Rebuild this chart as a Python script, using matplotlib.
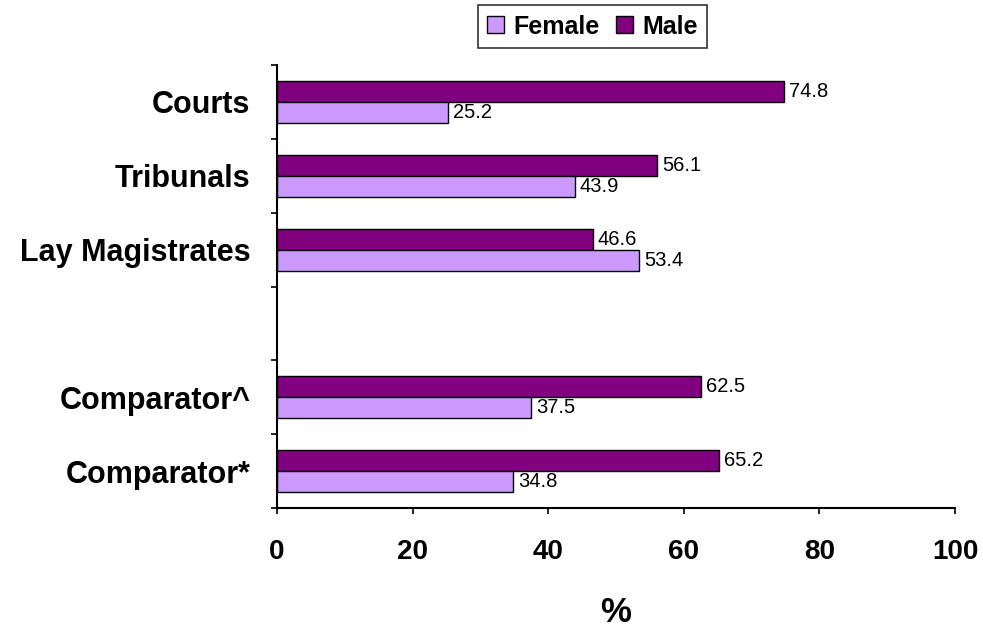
import matplotlib
matplotlib.use("Agg")
import matplotlib.pyplot as plt
from matplotlib.patches import Patch

plt.rcParams['font.family'] = ['Liberation Sans', 'DejaVu Sans']

categories = ["Courts", "Tribunals", "Lay Magistrates", "", "Comparator^", "Comparator*"]
female = [25.2, 43.9, 53.4, None, 37.5, 34.8]
male = [74.8, 56.1, 46.6, None, 62.5, 65.2]
xticks = [0, 20, 40, 60, 80, 100]

c_female = "#CC99FF"
c_male = "#800080"

fig = plt.figure(figsize=(9.83, 6.27), dpi=100)
ax = fig.add_axes([277/983, 1-508/627, (955-277)/983, (508-65)/627])

n = len(categories)
h = 0.285
for i, (cat, f, m) in enumerate(zip(categories, female, male)):
    y = n - 1 - i
    if f is None:
        continue
    ax.barh(y + h/2, m, height=h, color=c_male, edgecolor="black", linewidth=1)
    ax.barh(y - h/2, f, height=h, color=c_female, edgecolor="black", linewidth=1)
    ax.annotate(f"{m:.1f}", (m, y + h/2), xytext=(3.5, 0), textcoords="offset points",
                va="center", ha="left", fontsize=14.5)
    ax.annotate(f"{f:.1f}", (f, y - h/2), xytext=(3.5, 0), textcoords="offset points",
                va="center", ha="left", fontsize=14.5)

ax.set_xlim(0, 100)
ax.set_ylim(-0.5, n - 0.5)
ax.set_xticks(xticks)
ax.set_xticklabels([str(t) for t in xticks], fontsize=20, fontweight="bold")
ax.tick_params(axis="x", length=4.5, width=1.2, pad=18)

ax.set_yticks([k - 0.5 for k in range(n + 1)])
ax.set_yticklabels([])
ax.tick_params(axis="y", which="major", length=4.5, width=1.2)
ax.set_yticks([n - 1 - i for i in range(n)], minor=True)
ax.set_yticklabels(categories, minor=True, fontsize=22, fontweight="bold")
ax.tick_params(axis="y", which="minor", length=0, pad=19)

for s in ["top", "right"]:
    ax.spines[s].set_visible(False)
for s in ["left", "bottom"]:
    ax.spines[s].set_linewidth(1.5)

ax.set_xlabel("%", fontsize=25, fontweight="bold", labelpad=22)

handles = [Patch(facecolor=c_female, edgecolor="black", label="Female"),
           Patch(facecolor=c_male, edgecolor="black", label="Male")]
leg = fig.legend(handles=handles, loc="center", bbox_to_anchor=(592.5/983, 1-26.5/627),
                 ncol=2, frameon=True, fancybox=False, edgecolor="black",
                 prop={"weight": "bold", "size": 18}, handlelength=0.65, handleheight=0.65,
                 handletextpad=0.38, columnspacing=0.68, borderpad=0.38, borderaxespad=0)
leg.get_frame().set_linewidth(1.2)

fig.savefig("out.png", dpi=100)
